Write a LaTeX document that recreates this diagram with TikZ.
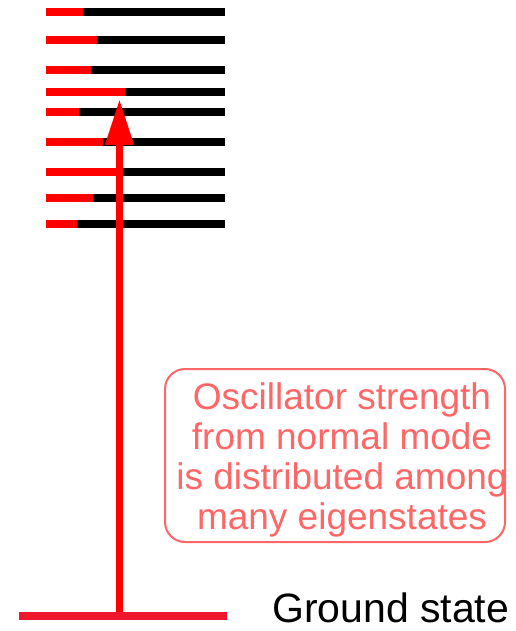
\documentclass[tikz,border=0pt]{standalone}
\usepackage{fontspec}
\setmainfont{Liberation Sans}
\usetikzlibrary{arrows.meta}
\definecolor{lvred}{RGB}{255,0,0}
\definecolor{gndred}{RGB}{237,22,42}
\definecolor{notered}{RGB}{255,102,102}
\tikzset{
  level/.style={line width=8pt, line cap=butt},
  excite/.style={draw=lvred, line width=7.5pt, -{Triangle[length=46pt 0, width=27pt 0]}},
  notebox/.style={draw=notered, line width=2pt, rounded corners=20pt},
  notetext/.style={text=notered, align=center, inner sep=0pt, font=\fontsize{37}{40}\selectfont},
  gndtext/.style={text=black, inner sep=0pt, anchor=base west, font=\fontsize{41}{44}\selectfont}
}
\begin{document}
\begin{tikzpicture}[x=1pt,y=-1pt]
\useasboundingbox (0,0) rectangle (515,631);
% excited levels: y, red end
\foreach \y/\r in {12.3/83, 40/97, 70.3/91, 92/125, 112/79, 142/103, 172/120, 198/93, 224/77}{
  \draw[level, black] (\r,\y) -- (225,\y);
  \draw[level, lvred] (46,\y) -- (\r,\y);
}
% ground state
\coordinate (gl) at (19,616);
\coordinate (gr) at (227,616);
\draw[level, gndred] (gl) -- (gr);
\coordinate (g) at (119.5,612);
\coordinate (top) at (119.5,99);
\draw[excite] (g) -- (top);
\node[gndtext] (gs) at (272,622.5) {Ground state};
% note box
\draw[notebox] (165,369) rectangle (505,542);
\node[notetext] (note) at (342,459.5) {Oscillator strength\\from normal mode\\is distributed among\\many eigenstates};
\end{tikzpicture}
\end{document}
